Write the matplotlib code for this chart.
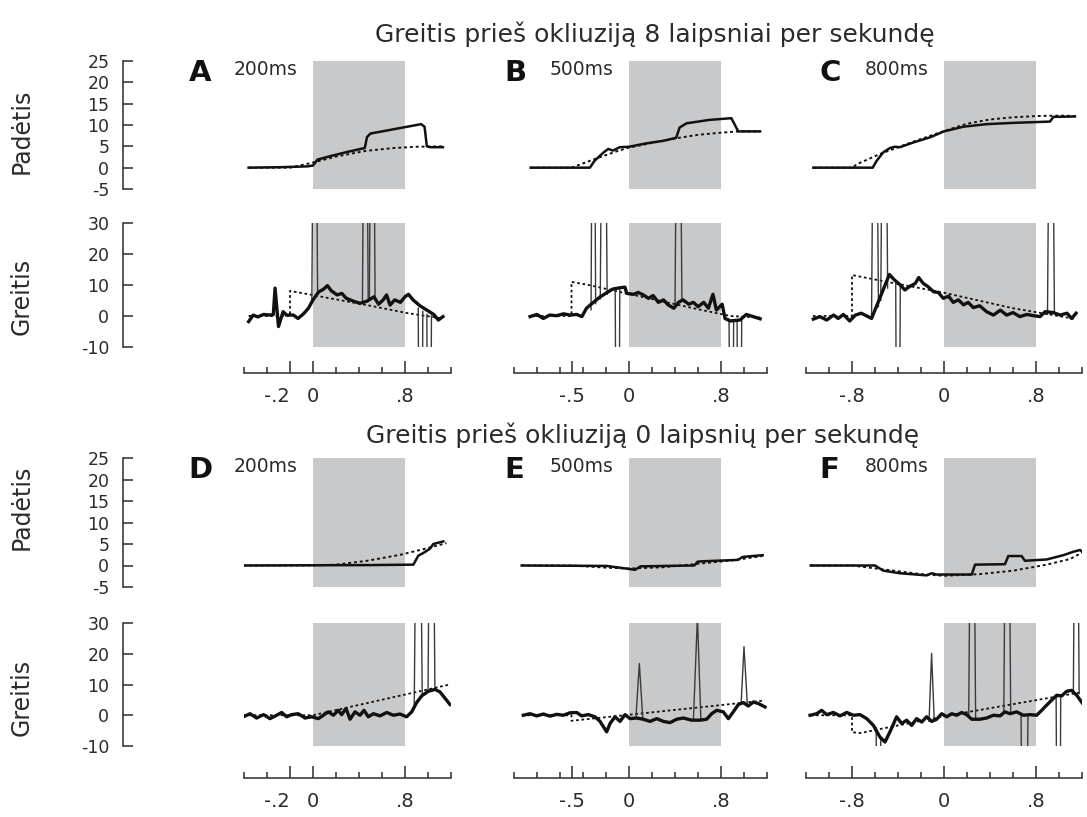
import numpy as np
import matplotlib.pyplot as plt

plt.rcParams['axes.unicode_minus'] = False

# ---- data: (time [s], value) ----
TITLES = ["Greitis prieš okliuziją 8 laipsniai per sekundę",
          "Greitis prieš okliuziją 0 laipsnių per sekundę"]
LETTERS = ["A", "B", "C", "D", "E", "F"]
LAGS = ["200ms", "500ms", "800ms", "200ms", "500ms", "800ms"]
ONSET_TICKS = [-0.2, -0.5, -0.8]
ONSET_LABELS = ["-.2", "-.5", "-.8"]
POS_TICKS = [-5, 0, 5, 10, 15, 20, 25]
VEL_TICKS = [-10, 0, 10, 20, 30]
OCCLUSION = (0.0, 0.8)

# eye position (solid) and target position (dotted)
A_POS = [(-0.56, 0.0), (-0.3, 0.1), (-0.05, 0.3), (0.0, 0.5), (0.04, 1.9), (0.15, 2.7), (0.3, 3.7),
         (0.45, 4.6), (0.47, 7.2), (0.5, 8.0), (0.7, 9.0), (0.94, 10.2), (0.97, 9.6), (0.99, 5.0),
         (1.02, 4.8), (1.13, 4.8)]
A_POS_TARGET = [(-0.56, 0.0), (-0.2, 0.0), (0.0, 1.2), (0.2, 2.6), (0.45, 3.9), (0.7, 4.6), (0.9, 4.9),
                (1.13, 5.0)]
B_POS = [(-0.855, 0.0), (-0.34, 0.0), (-0.30, 1.6), (-0.22, 3.6), (-0.18, 4.4), (-0.14, 4.0), (-0.08, 4.8),
         (0.0, 4.9), (0.15, 5.7), (0.30, 6.3), (0.41, 7.0), (0.44, 9.4), (0.50, 10.4), (0.70, 11.2),
         (0.89, 11.6), (0.95, 8.5), (1.14, 8.5)]
B_POS_TARGET = [(-0.855, 0.0), (-0.5, 0.0), (-0.3, 2.0), (-0.1, 3.9), (0.0, 4.7), (0.2, 5.8), (0.41, 6.9),
                (0.6, 7.7), (0.8, 8.2), (0.95, 8.5), (1.14, 8.5)]
C_POS = [(-1.136, 0.0), (-0.62, 0.0), (-0.586, 1.6), (-0.528, 3.6), (-0.47, 4.6), (-0.426, 4.9),
         (-0.383, 4.8), (-0.267, 5.9), (-0.122, 7.1), (0.0, 8.5), (0.168, 9.6), (0.371, 10.2),
         (0.603, 10.5), (0.922, 10.8), (0.951, 11.9), (1.139, 12.0)]
C_POS_TARGET = [(-1.136, 0.0), (-0.8, 0.0), (-0.75, 0.9), (-0.557, 3.2), (-0.267, 6.1), (0.0, 8.6),
                (0.2, 10.3), (0.4, 11.3), (0.6, 11.8), (0.8, 12.1), (1.0, 12.2), (1.14, 12.1)]
D_POS = [(-0.606, 0.0), (0.5, 0.1), (0.873, 0.2), (0.916, 2.3), (0.959, 2.9), (1.017, 3.9), (1.046, 5.0),
         (1.133, 5.6)]
D_POS_TARGET = [(-0.606, 0.0), (0.0, 0.0), (0.2, 0.2), (0.47, 1.1), (0.76, 2.5), (0.96, 3.8), (1.16, 5.2)]
E_POS = [(-0.933, 0.0), (-0.194, -0.1), (0.0, -0.8), (0.052, -1.0), (0.10, -0.2), (0.30, -0.1),
         (0.568, 0.0), (0.597, 0.9), (0.655, 1.0), (0.945, 1.3), (0.99, 2.0), (1.162, 2.4)]
E_POS_TARGET = [(-0.933, 0.0), (-0.5, 0.0), (-0.2, -0.5), (0.0, -0.7), (0.3, -0.4), (0.6, 0.4), (0.9, 1.2),
                (1.16, 2.2)]
F_POS = [(-1.159, 0.0), (-0.6, 0.0), (-0.528, -1.2), (-0.383, -1.8), (-0.151, -2.3), (-0.107, -1.8),
         (-0.064, -2.1), (0.241, -2.1), (0.270, 0.2), (0.530, 0.3), (0.559, 2.2), (0.675, 2.2),
         (0.704, 1.1), (0.893, 1.4), (1.038, 2.4), (1.125, 3.2), (1.183, 3.6), (1.212, 3.0)]
F_POS_TARGET = [(-1.159, 0.0), (-0.8, 0.0), (-0.5, -1.0), (-0.2, -2.0), (0.0, -2.4), (0.313, -2.0),
                (0.603, -1.2), (0.893, 0.2), (1.096, 1.5), (1.2, 3.0)]

# smooth pursuit eye velocity (thick), target velocity (dotted)
A_VEL = [(-0.56, -1.8), (-0.52, 0.3), (-0.48, -0.3), (-0.43, 0.5), (-0.37, 0.3), (-0.345, 0.5), (-0.33, 9.0),
         (-0.30, -3.4), (-0.26, 1.4), (-0.23, 0.3), (-0.17, 0.3), (-0.13, -0.8), (-0.08, 0.8), (-0.04, 2.5),
         (0.0, 5.2), (0.05, 7.8), (0.09, 8.6), (0.125, 9.8), (0.16, 8.1), (0.21, 6.8), (0.25, 7.3),
         (0.29, 5.7), (0.35, 4.8), (0.41, 4.1), (0.47, 4.8), (0.53, 6.2), (0.57, 3.8), (0.61, 5.2),
         (0.64, 6.8), (0.67, 3.5), (0.71, 5.2), (0.76, 4.4), (0.80, 6.2), (0.83, 7.0), (0.87, 5.2),
         (0.93, 3.3), (0.99, 1.9), (1.05, 0.5), (1.09, -1.3), (1.13, -0.2)]
A_VEL_TARGET = [(-0.56, 0.0), (-0.2, 0.0), (-0.2, 8.1), (0.5, 3.3), (0.81, 1.0), (1.13, -0.8)]
B_VEL = [(-0.86, -0.2), (-0.80, 0.5), (-0.745, -0.8), (-0.69, 0.3), (-0.63, 0.1), (-0.57, 0.7), (-0.51, 0.3),
         (-0.455, 0.5), (-0.41, -0.2), (-0.37, 2.5), (-0.31, 4.4), (-0.25, 6.2), (-0.19, 7.6), (-0.14, 8.7),
         (-0.08, 9.1), (-0.035, 9.3), (-0.02, 7.3), (0.04, 7.0), (0.08, 7.6), (0.125, 6.8), (0.17, 5.7),
         (0.21, 6.6), (0.255, 4.4), (0.30, 5.2), (0.34, 3.6), (0.39, 2.5), (0.43, 4.4), (0.47, 5.2),
         (0.52, 3.8), (0.56, 4.4), (0.60, 3.0), (0.65, 4.4), (0.69, 2.5), (0.73, 7.0), (0.76, 1.9),
         (0.81, 3.8), (0.835, -0.8), (0.88, -1.6), (0.965, -1.3), (1.02, 0.5), (1.08, -0.2), (1.14, -0.9)]
B_VEL_TARGET = [(-0.86, 0.0), (-0.5, 0.0), (-0.5, 11.0), (-0.35, 10.0), (0.56, 2.5), (0.88, 0.0),
                (1.14, -0.5)]
C_VEL = [(-1.136, -1.0), (-1.08, -0.2), (-1.02, -1.3), (-0.96, 0.3), (-0.92, -0.8), (-0.875, 0.5),
         (-0.82, -1.6), (-0.77, 0.3), (-0.72, 0.9), (-0.66, -0.2), (-0.63, -0.8), (-0.475, 13.4),
         (-0.43, 11.6), (-0.38, 10.0), (-0.34, 8.4), (-0.30, 9.5), (-0.25, 10.5), (-0.22, 12.4),
         (-0.18, 10.5), (-0.14, 9.5), (-0.09, 7.8), (-0.05, 7.6), (-0.006, 5.7), (0.04, 6.4), (0.08, 4.4),
         (0.125, 5.2), (0.17, 3.6), (0.21, 4.4), (0.255, 2.7), (0.31, 3.3), (0.37, 1.4), (0.43, 0.3),
         (0.49, 1.9), (0.545, 0.3), (0.60, 1.1), (0.66, -0.2), (0.72, 0.5), (0.78, 0.1), (0.835, -0.2),
         (0.88, 1.4), (0.95, 1.1), (1.01, 0.3), (1.07, 0.9), (1.11, -0.8), (1.148, 0.9)]
C_VEL_TARGET = [(-1.14, 0.0), (-0.8, 0.0), (-0.8, 13.2), (0.0, 7.5), (0.6, 2.5), (1.15, -1.0)]
D_VEL = [(-0.606, -0.5), (-0.548, 0.5), (-0.49, -0.9), (-0.43, 0.2), (-0.374, -1.1), (-0.316, 0.0),
         (-0.272, 0.9), (-0.229, -0.5), (-0.186, 0.2), (-0.128, 0.5), (-0.07, -0.9), (-0.012, -0.5),
         (0.046, -1.1), (0.09, 0.0), (0.133, 1.1), (0.177, 0.0), (0.22, 1.6), (0.249, 0.2), (0.287, 2.2),
         (0.322, -1.3), (0.365, 1.1), (0.409, 0.0), (0.443, 1.6), (0.481, -0.5), (0.525, 0.5),
         (0.583, -0.2), (0.641, 0.9), (0.699, 0.0), (0.757, 0.4), (0.814, -0.5), (0.858, 1.1),
         (0.901, 4.1), (0.945, 6.3), (1.003, 7.8), (1.061, 8.4), (1.104, 7.6), (1.191, 3.5)]
D_VEL_TARGET = [(-0.61, 0.0), (0.0, 0.0), (1.19, 10.0)]
E_VEL = [(-0.919, 0.0), (-0.861, 0.5), (-0.803, -0.2), (-0.745, 0.4), (-0.687, -0.3), (-0.629, 0.3),
         (-0.571, 0.0), (-0.513, 0.8), (-0.455, 0.9), (-0.412, -0.2), (-0.354, 0.2), (-0.296, -0.5),
         (-0.252, -2.0), (-0.194, -5.4), (-0.165, -2.7), (-0.122, -0.5), (-0.078, -2.0), (-0.035, 0.2),
         (0.009, -1.1), (0.067, -0.9), (0.125, -1.3), (0.183, -2.0), (0.241, -1.1), (0.299, -2.0),
         (0.357, -2.4), (0.414, -1.3), (0.472, -0.9), (0.545, -1.6), (0.617, -1.6), (0.675, -1.3),
         (0.719, 0.5), (0.762, 1.6), (0.82, 1.1), (0.864, -1.1), (0.907, 1.1), (0.951, 3.5), (0.994, 4.1),
         (1.038, 3.0), (1.081, 4.3), (1.125, 3.8), (1.183, 2.7)]
E_VEL_TARGET = [(-0.93, 0.0), (-0.5, 0.0), (-0.5, -1.8), (1.18, 4.8)]
F_VEL = [(-1.165, 0.0), (-1.107, 0.5), (-1.064, 1.6), (-1.02, 0.2), (-0.962, 0.9), (-0.904, -0.2),
         (-0.846, 0.9), (-0.788, 0.0), (-0.73, 0.2), (-0.672, -1.1), (-0.614, -3.3), (-0.557, -7.1),
         (-0.513, -8.7), (-0.47, -5.4), (-0.412, -0.5), (-0.368, -2.7), (-0.325, -1.6), (-0.281, -3.3),
         (-0.238, -1.1), (-0.194, -2.2), (-0.151, -0.5), (-0.107, -2.0), (-0.064, -1.3), (-0.02, 0.5),
         (0.023, -0.5), (0.067, 0.5), (0.11, 0.0), (0.154, 0.9), (0.197, 0.2), (0.241, -1.3), (0.313, -1.3),
         (0.371, -0.9), (0.429, 0.0), (0.487, -0.2), (0.53, 1.1), (0.574, 0.5), (0.632, 1.1), (0.69, 0.0),
         (0.748, 0.2), (0.806, 0.0), (0.849, 1.6), (0.893, 3.3), (0.936, 4.9), (0.98, 6.5), (1.023, 6.3),
         (1.067, 7.8), (1.11, 8.1), (1.154, 6.5), (1.206, 3.8)]
F_VEL_TARGET = [(-1.16, 0.0), (-0.8, 0.0), (-0.8, -5.5), (-0.73, -5.8), (0.0, -0.3), (1.2, 7.5)]

# raw velocity around saccades (thin), peaks run off the axes
A_SACCADES = [[(-0.01, 5.0), (0.015, 150), (0.04, 7.5)], [(0.43, 4.5), (0.455, 150), (0.48, 5.0)],
              [(0.49, 5.0), (0.515, 150), (0.54, 5.5)], [(0.915, 2.5), (0.935, -150), (0.955, 1.5)],
              [(0.99, 0.5), (1.01, -150), (1.03, 0.0)]]
B_SACCADES = [[(-0.33, 2.0), (-0.31, 150), (-0.29, 4.0)], [(-0.25, 5.5), (-0.22, 150), (-0.19, 7.0)],
              [(-0.12, 8.5), (-0.10, -150), (-0.08, 9.0)], [(0.40, 3.0), (0.43, 150), (0.46, 5.0)],
              [(0.87, -1.0), (0.89, -150), (0.91, -1.5)], [(0.94, -1.5), (0.96, -150), (0.98, -1.0)]]
C_SACCADES = [[(-0.63, -0.5), (-0.60, 150), (-0.57, 3.0)], [(-0.55, 5.0), (-0.52, 150), (-0.49, 9.0)],
              [(-0.42, 11.0), (-0.40, -150), (-0.38, 10.0)], [(0.90, 0.5), (0.93, 150), (0.96, 1.5)]]
D_SACCADES = [[(0.88, 2.0), (0.915, 150), (0.95, 6.0)], [(1.0, 7.5), (1.03, 150), (1.06, 8.3)]]
E_SACCADES = [[(0.06, -0.9), (0.09, 16.8), (0.12, -1.3)], [(0.56, -1.5), (0.595, 32.0), (0.625, -1.5)],
              [(0.975, 3.8), (1.0, 22.3), (1.03, 3.0)]]
F_SACCADES = [[(-0.13, -2.0), (-0.108, 20.1), (-0.085, -1.5)], [(-0.59, -4.0), (-0.57, -150), (-0.55, -7.5)],
              [(0.215, 0.2), (0.245, 150), (0.275, -1.3)], [(0.52, 1.0), (0.55, 150), (0.58, 0.5)],
              [(0.67, 0.5), (0.70, -150), (0.73, 0.2)], [(0.975, 6.5), (0.995, -150), (1.015, 6.3)],
              [(1.125, 8.0), (1.15, 150), (1.175, 7.0)]]

POS = [A_POS, B_POS, C_POS, D_POS, E_POS, F_POS]
POS_TARGET = [A_POS_TARGET, B_POS_TARGET, C_POS_TARGET, D_POS_TARGET, E_POS_TARGET, F_POS_TARGET]
VEL = [A_VEL, B_VEL, C_VEL, D_VEL, E_VEL, F_VEL]
VEL_TARGET = [A_VEL_TARGET, B_VEL_TARGET, C_VEL_TARGET, D_VEL_TARGET, E_VEL_TARGET, F_VEL_TARGET]
SACCADES = [A_SACCADES, B_SACCADES, C_SACCADES, D_SACCADES, E_SACCADES, F_SACCADES]

# ---- layout (pixels) ----
W, H = 1087, 817
PX_PER_S = 115
COLS = [(313, -0.6, 1.2), (629, -1.0, 1.2), (944, -1.2, 1.2)]   # x of t=0, tmin, tmax
ROWS = [dict(pos_top=61, pos_h=128, vel_top=223, vel_h=124, axis_off=19, title=(655, 42),
             plab=131, vlab=296),
        dict(pos_top=458, pos_h=129, vel_top=623, vel_h=123, axis_off=23, title=(643, 443),
             plab=507, vlab=697)]

GREY = '#c8c9cb'
INK = '#2b2b2b'

fig = plt.figure(figsize=(W / 100, H / 100), dpi=100)


def add_ax(left, top, width, height):
    return fig.add_axes([left / W, 1 - (top + height) / H, width / W, height / H])


def xy(points):
    t, v = zip(*points)
    return np.array(t), np.array(v)


def style_left(ax, ticks):
    ax.spines['left'].set_visible(True)
    ax.spines['left'].set_position(('outward', 87))
    ax.spines['left'].set_bounds(ticks[0], ticks[-1])
    ax.spines['left'].set_color(INK)
    ax.spines['left'].set_linewidth(1.1)
    ax.set_yticks(ticks)
    ax.tick_params(axis='y', direction='in', length=7, width=1.1, color=INK,
                   labelsize=12.5, labelcolor=INK, pad=10)


for i in range(6):
    r, c = divmod(i, 3)
    zero_px, tmin, tmax = COLS[c]
    row = ROWS[r]
    left = zero_px + tmin * PX_PER_S
    width = (tmax - tmin) * PX_PER_S

    # position panel
    ax = add_ax(left, row['pos_top'], width, row['pos_h'])
    ax.set_xlim(tmin, tmax)
    ax.set_ylim(-5, 25)
    ax.axvspan(*OCCLUSION, color=GREY, lw=0, zorder=0)
    t, v = xy(POS_TARGET[i])
    ax.plot(t, v, color='#111111', lw=1.4, ls=(0, (1.5, 1.5)), zorder=2)
    t, v = xy(POS[i])
    ax.plot(t, v, color='#111111', lw=1.8, zorder=3)
    for s in ax.spines.values():
        s.set_visible(False)
    ax.set_xticks([])
    ax.set_yticks([])
    if c == 0:
        style_left(ax, POS_TICKS)
    ax.text(-1.08, 25.5, LETTERS[i], fontsize=21, fontweight='bold', ha='left', va='top',
            color='#111111', clip_on=False)
    ax.text(-0.69, 23, LAGS[i], fontsize=13.5, ha='left', va='center', color=INK, clip_on=False)

    # velocity panel
    ax = add_ax(left, row['vel_top'], width, row['vel_h'])
    ax.set_xlim(tmin, tmax)
    ax.set_ylim(-10, 30)
    ax.axvspan(*OCCLUSION, color=GREY, lw=0, zorder=0)
    t, v = xy(VEL_TARGET[i])
    ax.plot(t, v, color='#111111', lw=1.3, ls=(0, (1.5, 1.5)), zorder=2)
    for sac in SACCADES[i]:
        t, v = xy(sac)
        ax.plot(t, v, color='#3a3a3a', lw=1.0, zorder=3)
    t, v = xy(VEL[i])
    ax.plot(t, v, color='#111111', lw=2.4, zorder=4, solid_joinstyle='round')
    for s in ax.spines.values():
        s.set_visible(False)
    ax.spines['bottom'].set_visible(True)
    ax.spines['bottom'].set_position(('outward', row['axis_off']))
    ax.spines['bottom'].set_bounds(tmin, tmax)
    ax.spines['bottom'].set_color(INK)
    ax.spines['bottom'].set_linewidth(1.1)
    ax.set_xticks([ONSET_TICKS[c], 0, 0.8])
    labels = ax.set_xticklabels([ONSET_LABELS[c], '0', '.8'])
    if c == 0:
        labels[0].set_horizontalalignment('right')
    ax.set_xticks(np.arange(tmin, tmax + 1e-6, 0.2), minor=True)
    ax.tick_params(axis='x', which='major', direction='in', length=9, width=1.1, color=INK,
                   labelsize=14, labelcolor=INK, pad=10)
    ax.tick_params(axis='x', which='minor', direction='in', length=4, width=1.1, color=INK)
    ax.set_yticks([])
    if c == 0:
        style_left(ax, VEL_TICKS)

for row, title in zip(ROWS, TITLES):
    fig.text(row['title'][0] / W, 1 - row['title'][1] / H, title, fontsize=18, ha='center',
             va='baseline', color=INK)
    fig.text(22 / W, 1 - row['plab'] / H, 'Padėtis', fontsize=17, rotation=90, ha='center',
             va='center', color=INK)
    fig.text(22 / W, 1 - row['vlab'] / H, 'Greitis', fontsize=17, rotation=90, ha='center',
             va='center', color=INK)

fig.savefig('out.png', dpi=100)
